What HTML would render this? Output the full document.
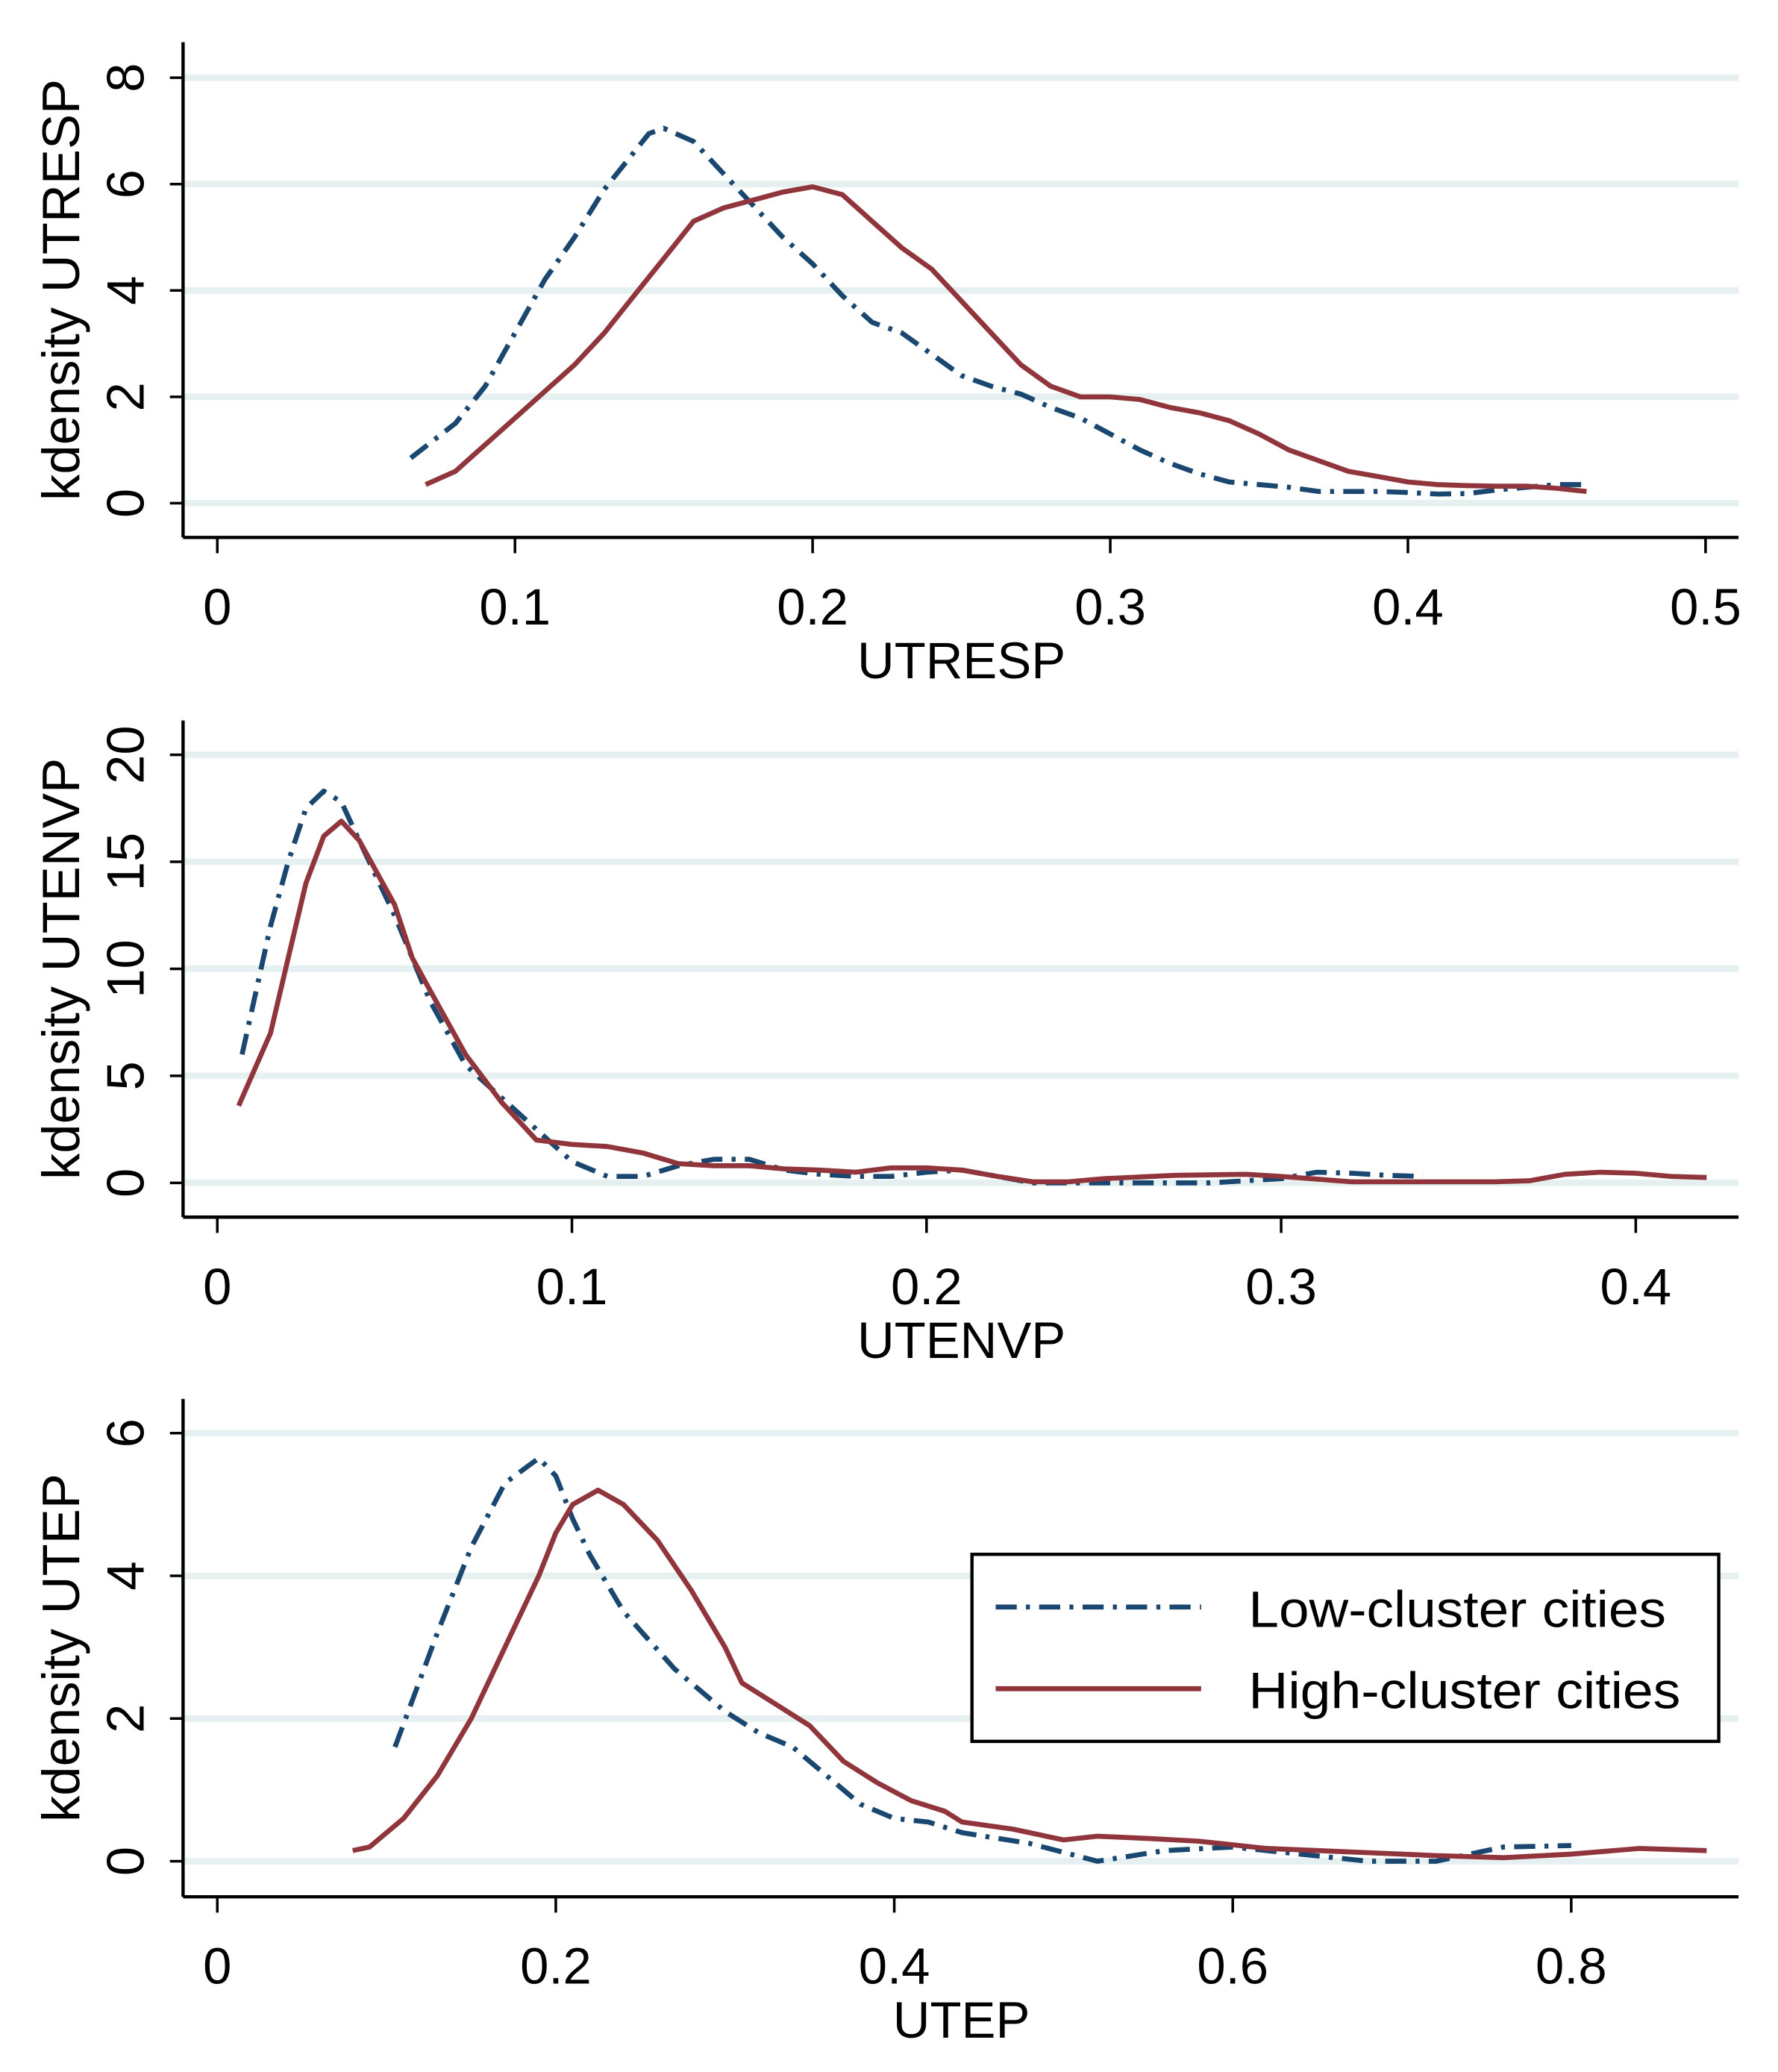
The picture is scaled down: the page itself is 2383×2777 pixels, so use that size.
<!DOCTYPE html>
<html><head><meta charset="utf-8"><style>
html,body{margin:0;padding:0;background:#fff}
svg{display:block}
text{font-family:"Liberation Sans",sans-serif;fill:#000}
</style></head><body>
<svg id="chart" width="2383" height="2777" viewBox="0 0 1350 1573" preserveAspectRatio="none" xmlns="http://www.w3.org/2000/svg"></svg>
<script>
// Panel 1: UTRESP
const p1LowX=[0.065,0.08,0.09,0.1,0.11,0.12,0.13,0.14,0.145,0.15,0.16,0.17,0.18,0.19,0.2,0.21,0.22,0.23,0.24,0.25,0.26,0.27,0.28,0.29,0.3,0.31,0.32,0.33,0.34,0.35,0.36,0.37,0.38,0.39,0.4,0.41,0.42,0.43,0.44,0.45,0.46];
const p1LowY=[0.85,1.5,2.2,3.2,4.2,5.0,5.9,6.6,6.95,7.05,6.8,6.2,5.6,5.0,4.5,3.9,3.4,3.2,2.8,2.4,2.2,2.05,1.8,1.6,1.3,1.0,0.75,0.55,0.4,0.35,0.3,0.22,0.22,0.22,0.2,0.17,0.18,0.25,0.3,0.35,0.35];
const p1HighX=[0.07,0.08,0.09,0.1,0.11,0.12,0.13,0.14,0.15,0.16,0.17,0.18,0.19,0.2,0.21,0.22,0.23,0.24,0.25,0.26,0.27,0.28,0.29,0.3,0.31,0.32,0.33,0.34,0.35,0.36,0.37,0.38,0.39,0.4,0.41,0.42,0.43,0.44,0.45,0.46];
const p1HighY=[0.35,0.6,1.1,1.6,2.1,2.6,3.2,3.9,4.6,5.3,5.55,5.7,5.85,5.95,5.8,5.3,4.8,4.4,3.8,3.2,2.6,2.2,2.0,2.0,1.95,1.8,1.7,1.55,1.3,1.0,0.8,0.6,0.5,0.4,0.35,0.33,0.32,0.32,0.28,0.22];
const p1XTicks=[0,0.1,0.2,0.3,0.4,0.5];
const p1XLabels=["0","0.1","0.2","0.3","0.4","0.5"];
const p1YTicks=[0,2,4,6,8];
// Panel 2: UTENVP
const p2LowX=[0.007,0.015,0.02,0.025,0.03,0.035,0.04,0.05,0.06,0.07,0.08,0.09,0.1,0.11,0.12,0.13,0.14,0.15,0.16,0.17,0.18,0.19,0.2,0.21,0.22,0.23,0.25,0.28,0.3,0.31,0.32,0.33,0.34];
const p2LowY=[6,12,15,17.5,18.3,17.8,16,12.5,8.5,5.5,4,2.5,1.0,0.3,0.3,0.8,1.1,1.1,0.6,0.4,0.3,0.3,0.5,0.6,0.3,0,0,0,0.2,0.5,0.45,0.35,0.3];
const p2HighX=[0.006,0.015,0.02,0.025,0.03,0.035,0.04,0.05,0.055,0.06,0.07,0.08,0.09,0.1,0.11,0.12,0.13,0.14,0.15,0.16,0.17,0.18,0.19,0.2,0.21,0.22,0.23,0.24,0.25,0.27,0.29,0.3,0.32,0.36,0.37,0.38,0.39,0.4,0.41,0.42];
const p2HighY=[3.6,7,10.5,14,16.2,16.9,16,13,10.5,9,6,3.8,2,1.8,1.7,1.4,0.9,0.8,0.8,0.65,0.6,0.5,0.7,0.7,0.6,0.3,0.05,0.05,0.2,0.35,0.4,0.3,0.05,0.05,0.1,0.4,0.5,0.45,0.3,0.25];
const p2XTicks=[0,0.1,0.2,0.3,0.4];
const p2XLabels=["0","0.1","0.2","0.3","0.4"];
const p2YTicks=[0,5,10,15,20];
// Panel 3: UTEP
const p3LowX=[0.105,0.13,0.15,0.17,0.19,0.2,0.21,0.22,0.24,0.27,0.3,0.32,0.34,0.36,0.38,0.4,0.42,0.44,0.48,0.52,0.56,0.6,0.64,0.68,0.72,0.76,0.8];
const p3LowY=[1.6,3.2,4.4,5.3,5.65,5.4,4.8,4.3,3.5,2.7,2.1,1.8,1.6,1.2,0.8,0.6,0.55,0.4,0.25,0.0,0.15,0.2,0.1,0,0.0,0.2,0.22];
const p3HighX=[0.08,0.09,0.11,0.13,0.15,0.17,0.19,0.2,0.21,0.225,0.24,0.26,0.28,0.3,0.31,0.33,0.35,0.37,0.39,0.41,0.43,0.44,0.47,0.5,0.52,0.55,0.58,0.62,0.68,0.72,0.76,0.8,0.84,0.88];
const p3HighY=[0.15,0.2,0.6,1.2,2.0,3.0,4.0,4.6,5.0,5.2,5.0,4.5,3.8,3.0,2.5,2.2,1.9,1.4,1.1,0.85,0.7,0.55,0.45,0.3,0.35,0.32,0.28,0.18,0.12,0.08,0.05,0.1,0.18,0.15];
const p3XTicks=[0,0.2,0.4,0.6,0.8];
const p3XLabels=["0","0.2","0.4","0.6","0.8"];
const p3YTicks=[0,2,4,6];

const svg=document.getElementById('chart');
const NS='http://www.w3.org/2000/svg';
function mk(tag,attrs,parent){const e=document.createElementNS(NS,tag);for(const k in attrs)e.setAttribute(k,attrs[k]);(parent||svg).appendChild(e);return e;}

function panel(cfg){
  const g=mk('g',{});
  
  
  const sx=v=>cfg.x0+(v-cfg.xmin)/(cfg.xmax-cfg.xmin)*(cfg.x1-cfg.x0);
  const sy=v=>cfg.y0+(v-cfg.ymin)/(cfg.ymax-cfg.ymin)*(cfg.y1-cfg.y0);
  cfg.yTicks.forEach(t=>{
    const l=mk('line',{x1:cfg.axL,x2:1320,y1:sy(t),y2:sy(t),stroke:'#e6f0f0','stroke-width':5},g);
    
    
    mk('line',{x1:cfg.axL-10,x2:cfg.axL,y1:sy(t),y2:sy(t),stroke:'#000','stroke-width':2},g);
    const tx=mk('text',{x:0,y:0,'font-size':40,'text-anchor':'middle',transform:`translate(109,${sy(t)}) rotate(-90)`},g);
    tx.textContent=String(t);
    
    
  });
  cfg.xTicks.forEach((t,i)=>{
    mk('line',{x1:sx(t),x2:sx(t),y1:cfg.axB,y2:cfg.axB+12,stroke:'#000','stroke-width':2},g);
    const tx=mk('text',{x:sx(t),y:cfg.axB+66,'font-size':39,'text-anchor':'middle'},g);
    tx.textContent=cfg.xLabels[i];
    
    
  });
  const ya=mk('line',{x1:cfg.axL,x2:cfg.axL,y1:cfg.axT,y2:cfg.axB,stroke:'#000','stroke-width':2.5},g);
  
  
  const xa=mk('line',{x1:cfg.axL,x2:1320,y1:cfg.axB,y2:cfg.axB,stroke:'#000','stroke-width':2.5},g);
  
  
  const xt=mk('text',{x:730,y:cfg.axB+107,'font-size':39,'text-anchor':'middle'},g);
  xt.textContent=cfg.xTitle;
  
  
  const yt=mk('text',{x:0,y:0,'font-size':40,'text-anchor':'middle',transform:`translate(60,${(cfg.axT+cfg.axB)/2}) rotate(-90)`},g);
  yt.textContent=cfg.yTitle;
  
  
  const pts=(xs,ys)=>xs.map((v,i)=>sx(v).toFixed(1)+','+sy(ys[i]).toFixed(1)).join(' ');
  const lo=mk('polyline',{points:pts(cfg.lowX,cfg.lowY),fill:'none',stroke:'#1a476f','stroke-width':3.8,'stroke-dasharray':'16 7 3 7','stroke-linejoin':'round'},g);
  
  
  const hi=mk('polyline',{points:pts(cfg.highX,cfg.highY),fill:'none',stroke:'#90353b','stroke-width':3.8,'stroke-linejoin':'round'},g);
  
  
}

panel({name:'panel-utresp',axL:139,axT:32,axB:408,x0:165,x1:1295,xmin:0,xmax:0.5,y0:382,y1:59,ymin:0,ymax:8,
  xTicks:p1XTicks,xLabels:p1XLabels,yTicks:p1YTicks,xTitle:'UTRESP',yTitle:'kdensity UTRESP',
  lowX:p1LowX,lowY:p1LowY,highX:p1HighX,highY:p1HighY});
panel({name:'panel-utenvp',axL:139,axT:547,axB:924,x0:165,x1:1242,xmin:0,xmax:0.4,y0:898,y1:573,ymin:0,ymax:20,
  xTicks:p2XTicks,xLabels:p2XLabels,yTicks:p2YTicks,xTitle:'UTENVP',yTitle:'kdensity UTENVP',
  lowX:p2LowX,lowY:p2LowY,highX:p2HighX,highY:p2HighY});
panel({name:'panel-utep',axL:139,axT:1062,axB:1440,x0:165,x1:1193,xmin:0,xmax:0.8,y0:1413,y1:1088,ymin:0,ymax:6,
  xTicks:p3XTicks,xLabels:p3XLabels,yTicks:p3YTicks,xTitle:'UTEP',yTitle:'kdensity UTEP',
  lowX:p3LowX,lowY:p3LowY,highX:p3HighX,highY:p3HighY});
</script>
<script>
(function(){
const svg=document.getElementById('chart');
const NS='http://www.w3.org/2000/svg';
const g=document.createElementNS(NS,'g');


svg.appendChild(g);
g.innerHTML='<rect x="738" y="1180" width="567" height="142" fill="#fff" stroke="#000" stroke-width="2.5"/>'+
'<line x1="756" x2="912" y1="1220" y2="1220" stroke="#1a476f" stroke-width="3.8" stroke-dasharray="16 7 3 7"/>'+
'<text x="948" y="1235" font-size="39" textLength="317" lengthAdjust="spacingAndGlyphs">Low-cluster cities</text>'+
'<line x1="756" x2="912" y1="1282" y2="1282" stroke="#90353b" stroke-width="3.8"/>'+
'<text x="948" y="1297" font-size="39" textLength="328" lengthAdjust="spacingAndGlyphs">High-cluster cities</text>';
})();
</script>
</body></html>
